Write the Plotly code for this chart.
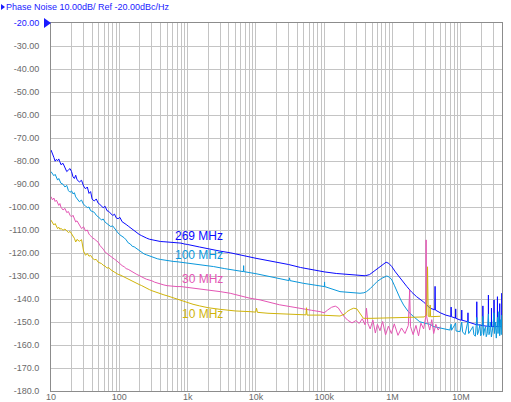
import plotly.graph_objects as go

# shared low-offset grid (Hz), 10 Hz .. 900 Hz
freq_low = [10, 10.5, 11, 11.5, 12, 12.5, 13, 13.5, 14, 15,
            16, 17, 18, 19, 20, 21, 22, 23, 24, 26,
            28, 30, 32, 34, 36, 38, 40, 43, 46, 49,
            52, 55, 58, 62, 66, 70, 75, 80, 85, 90,
            96, 102, 110, 118, 126, 135, 145, 155, 165, 180,
            195, 210, 230, 250, 275, 300, 330, 360, 400, 450,
            500, 560, 630, 700, 800, 900]

# 269 MHz carrier
pn269_low = [-75.2, -76.6, -78.4, -80.1, -79.3, -79.9, -79.1, -80.4, -81.6, -81.0,
             -82.9, -84.6, -83.9, -83.3, -84.6, -86.9, -87.6, -86.2, -88.1, -89.1,
             -88.4, -90.9, -92.1, -91.3, -94.1, -93.3, -96.6, -97.4, -96.5, -98.3,
             -98.9, -99.6, -100.3, -99.7, -101.6, -101.9, -102.8, -103.7, -103.1, -104.7,
             -105.1, -104.5, -106.4, -106.9, -107.6, -108.3, -109.0, -109.6, -110.5, -111.1,
             -111.9, -112.4, -113.1, -113.5, -114.0, -114.3, -114.6, -114.8, -115.0, -115.1,
             -115.2, -115.2, -115.3, -115.4, -115.7, -116.1]
freq269_high = [1e3, 1.5e3, 2e3, 3e3, 4.2e3, 6e3, 8.2e3, 1e4, 1.5e4, 2.2e4,
                3e4, 4.5e4, 6.9e4, 1e5, 1.5e5, 2.14e5, 3e5, 3.98e5, 4.6e5, 5.26e5,
                6e5, 6.6e5, 7.3e5, 8.04e5, 8.8e5, 9.74e5, 1.1e6, 1.29e6, 1.45e6, 1.62e6,
                1.9e6, 2.25e6, 2.82e6, 3.2e6, 3.55e6, 4.15e6, 4.19e6, 4.23e6, 5e6, 6e6,
                7.15e6, 7.2e6, 7.25e6, 8.35e6, 8.4e6, 8.45e6, 9.7e6, 10.25e6, 10.3e6, 10.35e6,
                12.65e6, 12.7e6, 12.75e6, 17.05e6, 17.1e6, 17.15e6, 19e6, 20.95e6, 21e6, 21.05e6,
                25.25e6, 25.3e6, 25.35e6, 28e6, 28.05e6, 28.1e6, 30.55e6, 30.6e6, 30.65e6, 34.25e6,
                34.3e6, 34.35e6, 37e6, 37.05e6, 37.1e6, 39.65e6, 39.7e6, 39.75e6, 40e6]
pn269_high = [-116.3, -117.4, -118.2, -119.2, -119.9, -121.0, -121.9, -122.3, -123.3, -124.2,
              -125.0, -126.3, -127.4, -128.2, -128.9, -129.3, -129.7, -129.9, -129.4, -128.1,
              -126.8, -125.7, -124.6, -124.0, -124.5, -125.9, -128.2, -131.0, -133.0, -134.6,
              -137.0, -139.0, -141.2, -142.8, -144.0, -144.7, -134.5, -144.8, -146.0, -147.0,
              -147.6, -143.5, -147.7, -148.3, -144.3, -148.4, -149.1, -149.2, -144.8, -149.2,
              -149.9, -146.0, -150.0, -151.2, -141.2, -151.2, -151.3, -151.6, -143.0, -151.6,
              -151.9, -138.3, -151.9, -152.0, -144.0, -152.0, -152.0, -140.4, -152.0, -152.0,
              -139.0, -152.0, -152.0, -142.0, -152.0, -152.0, -137.5, -152.0, -152.0]

# 100 MHz carrier
pn100_low = [-84.6, -85.6, -86.4, -85.8, -87.1, -88.3, -87.6, -89.1, -89.7, -90.1,
             -91.3, -90.6, -92.9, -93.6, -93.0, -94.3, -93.8, -95.6, -96.3, -97.7,
             -97.0, -98.9, -99.5, -100.3, -100.0, -101.6, -101.9, -102.3, -103.6, -104.1,
             -104.9, -105.7, -105.2, -106.6, -107.1, -107.7, -108.5, -108.2, -109.4, -110.1,
             -111.3, -112.1, -112.7, -113.4, -114.3, -115.6, -116.1, -117.1, -117.3, -118.1,
             -119.1, -119.6, -120.4, -120.8, -121.3, -121.7, -122.1, -122.5, -122.8, -123.1,
             -123.3, -123.5, -123.7, -123.8, -124.0, -124.2]
freq100_high = [1e3, 1.5e3, 2.4e3, 3.5e3, 5e3, 6.55e3, 6.6e3, 6.65e3, 1e4, 1.5e4,
                2.2e4, 3.05e4, 3.1e4, 3.15e4, 5e4, 8e4, 1.005e5, 1.01e5, 1.015e5, 1.7e5,
                2.5e5, 3.34e5, 3.8e5, 4.15e5, 4.7e5, 5.26e5, 6e5, 6.95e5, 8.22e5, 9e5,
                9.77e5, 1.06e6, 1.16e6, 1.3e6, 1.45e6, 1.7e6, 2e6, 2.5e6, 3.16e6, 3.55e6,
                4e6, 5e6, 6.9e6, 7.2e6, 7.3e6, 8.4e6, 8.5e6, 9.7e6, 10.3e6, 10.6e6,
                11.5e6, 12.7e6, 13e6, 14e6, 15e6, 15.5e6, 16.3e6, 17.1e6, 17.5e6, 18.2e6,
                19e6, 19.5e6, 20.2e6, 21e6, 21.5e6, 22.3e6, 23e6, 23.5e6, 24.3e6, 25.3e6,
                25.8e6, 26.5e6, 27e6, 28e6, 29e6, 30.6e6, 31e6, 32e6, 33e6, 34.3e6,
                35e6, 36e6, 37e6, 38e6, 39e6, 39.7e6, 40e6]
pn100_high = [-124.4, -125.0, -125.9, -126.8, -127.5, -128.1, -125.5, -128.1, -129.0, -130.0,
              -131.0, -132.0, -130.8, -132.0, -133.2, -134.3, -134.6, -132.6, -134.6, -136.8,
              -137.3, -137.5, -137.3, -136.8, -135.5, -133.9, -132.3, -131.0, -130.0, -130.5,
              -131.7, -134.0, -136.8, -140.0, -142.6, -145.5, -147.5, -149.9, -150.7, -151.0,
              -152.0, -152.7, -153.5, -151.0, -153.6, -150.5, -153.9, -154.2, -150.0, -154.3,
              -155.5, -149.5, -155.0, -153.5, -152.0, -155.5, -156.2, -148.0, -155.5, -154.0,
              -151.0, -156.0, -155.0, -147.5, -155.8, -153.0, -152.0, -156.4, -155.0, -146.5,
              -155.5, -154.0, -150.0, -156.5, -153.5, -146.0, -155.0, -150.0, -157.0, -148.0,
              -155.0, -145.5, -156.0, -149.0, -155.5, -147.0, -153.0]

# 30 MHz carrier
pn30_low = [-95.5, -96.9, -96.1, -97.6, -97.0, -98.7, -99.3, -98.5, -100.1, -101.3,
            -100.6, -102.4, -102.0, -103.6, -104.3, -103.6, -105.4, -106.5, -106.0, -107.9,
            -109.4, -108.6, -110.4, -110.0, -111.8, -112.5, -113.3, -113.9, -114.6, -115.3,
            -116.7, -117.4, -118.3, -119.6, -120.3, -120.9, -121.7, -122.3, -122.7, -123.2,
            -124.0, -124.6, -125.5, -126.0, -126.8, -127.1, -127.7, -128.3, -128.7, -129.3,
            -129.8, -130.4, -130.9, -131.4, -131.7, -132.1, -132.7, -133.1, -133.4, -133.9,
            -134.2, -134.4, -134.5, -134.6, -134.6, -134.8]
freq30_high = [1e3, 1.5e3, 2e3, 3e3, 4.2e3, 6e3, 8e3, 1.15e4, 1.6e4, 2.2e4,
               3.16e4, 4.5e4, 6.5e4, 8.7e4, 1e5, 1.12e5, 1.28e5, 1.45e5, 1.6e5, 1.75e5,
               1.95e5, 2.2e5, 2.55e5, 2.9e5, 3.25e5, 3.6e5, 3.95e5, 4.15e5, 4.35e5, 4.7e5,
               5.15e5, 5.6e5, 6e5, 6.55e5, 7.15e5, 7.9e5, 8.7e5, 9.6e5, 1.06e6, 1.2e6,
               1.35e6, 1.52e6, 1.7e6, 1.78e6, 1.83e6, 2e6, 2.2e6, 2.4e6, 2.6e6, 2.85e6,
               3.05e6, 3.1e6, 3.15e6, 3.3e6, 3.5e6, 3.75e6, 4e6, 4.3e6, 4.65e6, 5e6]
pn30_high = [-134.9, -135.4, -136.0, -136.8, -137.5, -138.7, -139.6, -140.4, -141.5, -142.5,
             -143.3, -144.2, -144.9, -145.5, -146.0, -144.8, -143.6, -143.1, -143.8, -145.6,
             -147.6, -149.2, -150.4, -149.4, -150.6, -148.6, -151.2, -144.0, -150.6, -153.0,
             -149.2, -154.8, -151.0, -153.8, -149.8, -155.6, -151.8, -155.0, -150.8, -155.8,
             -152.6, -155.0, -151.5, -136.0, -152.0, -155.5, -151.5, -156.0, -150.5, -153.0,
             -148.0, -114.3, -147.5, -150.5, -153.5, -149.0, -155.0, -151.0, -153.5, -152.0]

# 10 MHz carrier
pn10_low = [-105.7, -106.9, -107.8, -107.2, -108.6, -109.4, -108.8, -109.7, -109.3, -110.1,
            -109.6, -110.5, -111.1, -110.6, -111.6, -112.9, -113.6, -115.2, -114.1, -114.9,
            -114.2, -119.2, -121.0, -120.2, -121.4, -121.0, -122.1, -122.9, -122.8, -124.0,
            -124.3, -124.6, -125.3, -125.7, -126.6, -126.3, -127.3, -127.9, -128.1, -128.7,
            -129.3, -129.5, -130.0, -130.5, -130.9, -131.5, -131.8, -132.5, -132.8, -133.3,
            -133.7, -134.1, -134.8, -135.3, -135.9, -136.4, -136.9, -137.2, -137.6, -138.2,
            -138.6, -139.1, -139.6, -140.0, -140.5, -141.2]
freq10_high = [1e3, 1.2e3, 1.5e3, 2e3, 3e3, 4e3, 5e3, 8.2e3, 9.9e3, 1.02e4,
               1.05e4, 1.5e4, 2.2e4, 4e4, 5.4e4, 5.5e4, 5.6e4, 8.7e4, 1.2e5, 1.7e5,
               2e5, 2.15e5, 2.45e5, 2.7e5, 3e5, 3.3e5, 3.74e5, 5e5, 6.6e5, 1e6,
               1.3e6, 2e6, 2.5e6, 2.9e6, 3.1e6, 3.2e6, 3.25e6, 3.3e6, 3.33e6, 3.5e6,
               3.55e6, 3.6e6, 4e6, 5e6]
pn10_high = [-141.6, -142.3, -143.0, -143.8, -144.5, -144.9, -145.2, -145.5, -145.7, -144.0,
             -145.8, -146.2, -146.5, -146.8, -146.9, -143.8, -147.0, -147.0, -147.3, -147.4,
             -146.5, -145.5, -144.5, -144.0, -144.3, -146.0, -148.4, -148.4, -148.3, -148.4,
             -148.3, -148.2, -148.0, -147.8, -147.0, -140.0, -126.0, -135.0, -147.5, -147.7,
             -142.6, -147.7, -147.7, -147.5]

x_tickvals = [10, 100, 1e3, 1e4, 1e5, 1e6, 1e7]
x_ticktext = ['10', '100', '1k', '10k', '100k', '1M', '10M']
y_tickvals = [-20, -30, -40, -50, -60, -70, -80, -90, -100, -110, -120, -130,
              -140, -150, -160, -170, -180]
y_ticktext = ["<span style='color:#1a1aff'>-20.00</span>", '-30.00', '-40.00', '-50.00',
              '-60.00', '-70.00', '-80.00', '-90.00', '-100.00', '-110.00', '-120.00',
              '-130.00', '-140.0', '-150.0', '-160.0', '-170.0', '-180.0']

series = [
    ('269 MHz', freq_low + freq269_high, pn269_low + pn269_high, '#0a0aff'),
    ('100 MHz', freq_low + freq100_high, pn100_low + pn100_high, '#0a98dc'),
    ('30 MHz', freq_low + freq30_high, pn30_low + pn30_high, '#e455b4'),
    ('10 MHz', freq_low + freq10_high, pn10_low + pn10_high, '#d0b40a'),
]

fig = go.Figure()
for name, f, v, c in series:
    fig.add_trace(go.Scatter(
        x=f, y=v, mode='lines', name=name,
        line=dict(color=c, width=1),
        showlegend=False, hoverinfo='skip'
    ))

# curve labels (x in log10 units)
labels = [('269 MHz', 2.78, -112.6, '#0a0aff'),
          ('100 MHz', 2.78, -120.9, '#0a98dc'),
          ('30 MHz', 2.89, -131.3, '#e455b4'),
          ('10 MHz', 2.89, -146.5, '#d0b40a')]
for txt, lx, ly, c in labels:
    fig.add_annotation(x=lx, y=ly, text=txt, showarrow=False,
                       xanchor='left', yanchor='middle',
                       font=dict(family='Liberation Sans', size=12, color=c))

# reference marker on the y axis
fig.add_shape(type='path', xref='paper', yref='paper',
              xsizemode='pixel', ysizemode='pixel', xanchor=0, yanchor=1,
              path='M -7,5 L 0,0 L -7,-5 Z',
              fillcolor='#1a1aff', line=dict(width=0))
# small marker before the title
fig.add_shape(type='path', xref='paper', yref='paper',
              xsizemode='pixel', ysizemode='pixel', xanchor=0, yanchor=1,
              path='M -50,19 L -46,16 L -50,13 Z',
              fillcolor='#1a1aff', line=dict(width=0))

grid = '#c4c4c4'
fig.update_layout(
    width=511, height=402,
    margin=dict(l=51, r=9, t=23, b=11),
    paper_bgcolor='white', plot_bgcolor='white',
    font=dict(family='Liberation Sans', size=9, color='#6a6a6a'),
    title=dict(text='Phase Noise 10.00dB/ Ref -20.00dBc/Hz',
               x=6 / 511, xanchor='left', xref='container',
               y=1 - 7 / 402, yanchor='middle', yref='container',
               font=dict(family='Liberation Sans', size=9, color='#1a1aff')),
    xaxis=dict(type='log', range=[1, 7.602],
               tickvals=x_tickvals, ticktext=x_ticktext,
               showgrid=True, gridcolor=grid, gridwidth=1,
               minor=dict(dtick='D1', showgrid=True, gridcolor=grid, gridwidth=1),
               showline=True, linecolor='#8c8c8c', linewidth=1, mirror=True,
               ticks='', zeroline=False, ticklabelstandoff=-3, automargin=False),
    yaxis=dict(range=[-180, -20], tickvals=y_tickvals, ticktext=y_ticktext,
               showgrid=True, gridcolor=grid, gridwidth=1,
               showline=True, linecolor='#8c8c8c', linewidth=1, mirror=True,
               ticks='', zeroline=False, ticklabelstandoff=9, automargin=False),
)

# the page's default body margin would push the figure 8px down and right
fig.write_html("out.html", config={'displayModeBar': False},
               post_script="document.body.style.margin='0';document.body.style.overflow='hidden';")
